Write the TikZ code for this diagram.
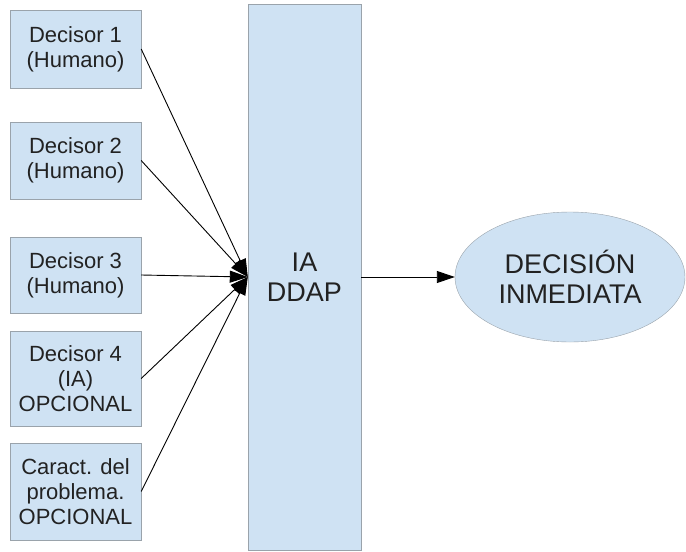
\documentclass[tikz,border=0pt]{standalone}
\usepackage{fontspec}
\setmainfont{Liberation Sans}
\usetikzlibrary{arrows.meta, shapes.geometric, positioning}

\definecolor{boxblue}{HTML}{CFE2F3}
\definecolor{edgegray}{HTML}{9AA3AB}
\definecolor{inkgray}{HTML}{222222}

\tikzset{
	decbox/.style={draw=edgegray, fill=boxblue, minimum width=131pt, inner sep=2pt,
		align=center, text=inkgray, font=\fontsize{22}{25}\selectfont},
	flow/.style={-{Triangle[length=18pt,width=12pt]}, line width=0.9pt}
}

\begin{document}
\begin{tikzpicture}[x=1pt, y=-1pt]
			\useasboundingbox (0,0) rectangle (686,552);
			
			% Decisores
			\node[decbox, minimum height=78pt] (d1) at (75.5,49) {Decisor 1\\(Humano)};
			\node[decbox, minimum height=77pt] (d2) at (75.5,160.5) {Decisor 2\\(Humano)};
			\node[decbox, minimum height=76pt] (d3) at (75.5,275) {Decisor 3\\(Humano)};
			\node[decbox, minimum height=95pt] (d4) at (75.5,378.5) {Decisor 4\\(IA)\\OPCIONAL};
			\node[decbox, minimum height=97pt] (d5) at (75.5,491.5) {Caract. del\\problema.\\OPCIONAL};
			
			% IA central
			\node[draw=edgegray, fill=boxblue, minimum width=113pt, minimum height=546pt,
				align=center, text=inkgray, font=\fontsize{27}{30}\selectfont] (ia) at (304.5,277) {IA\\DDAP};
			\coordinate (hub) at (ia.west);
			
			% Decision
			\node[ellipse, draw=edgegray, fill=boxblue, minimum width=230pt, minimum height=130pt,
				inner sep=0pt, align=center, text=inkgray, font=\fontsize{27}{30}\selectfont] (dec) at (570,277) {DECISIÓN\\INMEDIATA};
			
			% Flechas
			\foreach \n in {d1, d2, d3, d4, d5} {
				\draw[flow] (\n.east) -- (hub);
			}
			\draw[flow] (ia.east) -- (dec.west);
\end{tikzpicture}
\end{document}
